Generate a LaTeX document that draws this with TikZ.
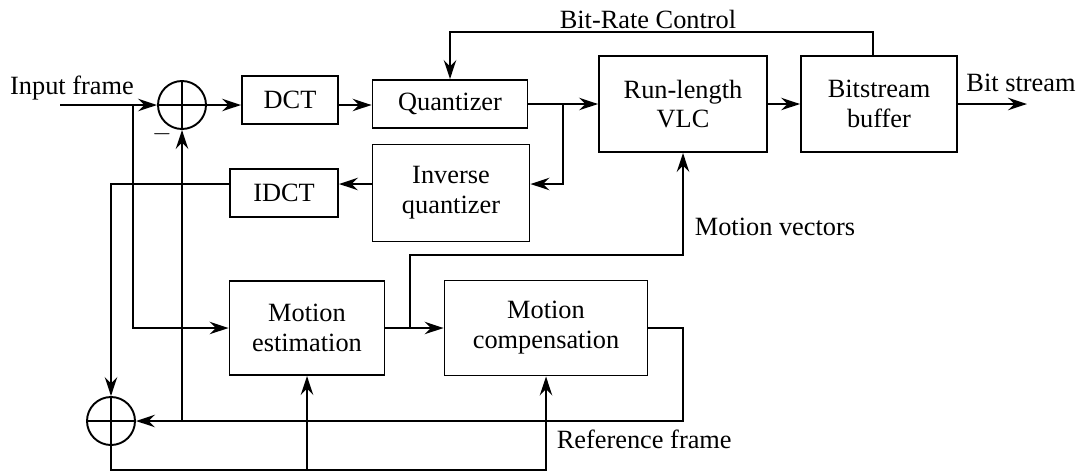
\documentclass[tikz,border=0pt]{standalone}
\usepackage{fontspec}
\setmainfont{Liberation Serif}
\usetikzlibrary{arrows.meta,calc}
\begin{document}
\begin{tikzpicture}[x=0.02cm,y=-0.02cm,line width=1.1pt,
    every node/.style={font=\fontsize{15}{17}\selectfont},
    blk/.style={draw,line width=1.1pt,align=center,inner sep=0pt},
    summer/.style={draw,circle,minimum size=0.96cm,inner sep=0pt,
      path picture={\draw (path picture bounding box.north) -- (path picture bounding box.south)
        (path picture bounding box.west) -- (path picture bounding box.east);}},
    arr/.style={-{Stealth[length=3.8mm,width=2.5mm,inset=1.3mm]}}]
  \useasboundingbox (0,0) rectangle (1085,471);
  % blocks
  \node[summer] (sum1) at (182,105) {};
  \node[summer] (sum2) at (111,421) {};
  \node[blk,minimum width=1.92cm,minimum height=0.96cm] (dct) at (290,100) {DCT};
  \node[blk,minimum width=3.1cm,minimum height=0.96cm] (q) at (450,104) {Quantizer};
  \node[blk,minimum width=3.14cm,minimum height=1.94cm] (iq) at (451,193) {Inverse\\quantizer};
  \node[blk,minimum width=2.16cm,minimum height=0.96cm] (idct) at (284,193) {IDCT};
  \node[blk,minimum width=3.36cm,minimum height=1.92cm] (rl) at (683,104) {Run-length\\VLC};
  \node[blk,minimum width=3.12cm,minimum height=1.92cm] (buf) at (879,104) {Bitstream\\buffer};
  \node[blk,minimum width=3.1cm,minimum height=1.88cm] (me) at (307,328) {Motion\\estimation};
  \node[blk,minimum width=4.06cm,minimum height=1.9cm] (mc) at (546,328) {Motion\\compensation};
  % junctions and levels
  \coordinate (in) at (60,105);
  \coordinate (ib) at (133,105);
  \coordinate (qb) at (563,104);
  \coordinate (lv) at (0,184);
  \coordinate (mb) at (410,328);
  \coordinate (mv) at (0,255);
  \coordinate (rf) at (683,421);
  \coordinate (bot) at (0,470);
  \coordinate (br) at (873,32);
  \coordinate (out) at (1027,104);
  % forward path
  \draw[arr] (in) -- (sum1.west);
  \draw[arr] (sum1.east) -- (sum1.east -| dct.west);
  \draw[arr] (dct.east |- sum1) -- (q.west |- sum1);
  \draw[arr] (q.east) -- (q.east -| rl.west);
  \draw[arr] (rl.east) -- (rl.east -| buf.west);
  \draw[arr] (buf.east) -- (out);
  \draw[arr] (buf.north -| br) -- (br) -| (q.north);
  % reconstruction loop
  \draw[arr] (qb) |- (iq.east |- lv);
  \draw[arr] (iq.west |- lv) -- (idct.east |- lv);
  \draw[arr] (idct.west |- lv) -| (sum2.north);
  \draw[arr] (ib) |- (me.west);
  \draw[arr] (me.east) -- (mc.west);
  \draw[arr] (mb) |- (rl.south |- mv) -- (rl.south);
  \draw[arr] (mc.east) -| (rf) -- (sum2.east);
  \draw[arr] (sum1.south |- rf) -- (sum1.south);
  \draw[arr] (sum2.south) -- (sum2.south |- bot) -| (mc.south);
  \draw[arr] (me.south |- bot) -- (me.south);
  % labels
  \node (lin) at (72,88) {Input frame};
  \node (lminus) at (162,134) {$-$};
  \node (lbrc) at (648,19) {Bit-Rate Control};
  \node (lbs) at (1021,83) {Bit stream};
  \node[anchor=west] (lmv) at (688,227) {Motion vectors};
  \node[anchor=west] (lrf) at (550,439) {Reference frame};
\end{tikzpicture}
\end{document}
